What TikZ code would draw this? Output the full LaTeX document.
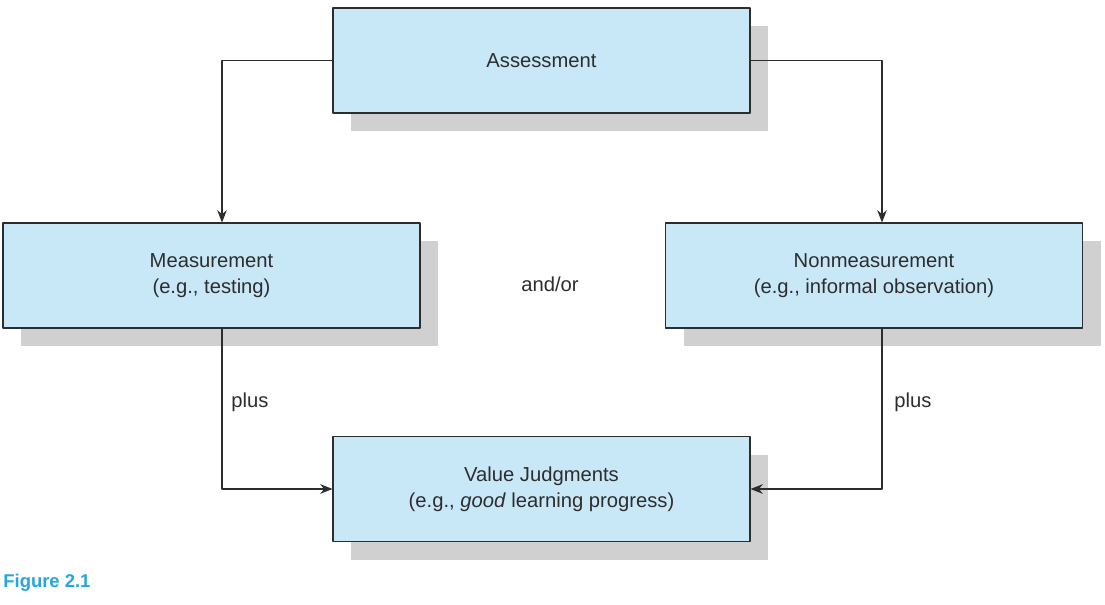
\documentclass[tikz,border=0pt]{standalone}
\usepackage{fontspec}
\setmainfont{Liberation Sans}
\usepackage{tikz}
\usetikzlibrary{arrows.meta,shadows}
\definecolor{boxblue}{RGB}{200,232,248}
\definecolor{shadowgray}{RGB}{208,208,208}
\definecolor{inkgray}{RGB}{45,45,45}
\definecolor{figblue}{RGB}{38,165,222}

\begin{document}
\begin{tikzpicture}[line cap=round,line join=round,>={Stealth[length=7pt,width=5.5pt]},x=1.0cm,y=1.0cm,
  box/.style={draw=inkgray,line width=0.6pt,fill=boxblue,minimum width=8.34cm,minimum height=2.1cm,
    align=center,text=inkgray,font=\fontsize{11.5}{14.8}\selectfont,
    general shadow={fill=shadowgray,draw=none,shadow xshift=0.36cm,shadow yshift=-0.36cm}},
  lbl/.style={text=inkgray,font=\fontsize{11.5}{14.8}\selectfont},
  link/.style={->,draw=inkgray,line width=0.6pt}]
\useasboundingbox (0.,0.) rectangle (22.1,12.08);
%\draw[red] (0.,0.) rectangle (22.1,12.08);
\node[box] (assess) at (10.83,10.87) {Assessment};
\node[box] (meas) at (4.23,6.57) {Measurement\\(e.g., testing)};
\node[box] (nonmeas) at (17.48,6.57) {Nonmeasurement\\(e.g., informal observation)};
\node[box] (value) at (10.83,2.30) {Value Judgments\\(e.g., \textit{good} learning progress)};
\node[lbl] (andor) at (11.0,6.40) {and/or};
\node[lbl] (plusl) at (5.0,4.04) {plus};
\node[lbl] (plusr) at (18.26,4.04) {plus};
\node[anchor=west,text=figblue,font=\fontsize{10.5}{12}\selectfont\bfseries,inner sep=0pt] (figlbl) at (0.06,0.42) {Figure 2.1};
\draw[link] (assess.west) -| ([xshift=0.21cm]meas.north);
\draw[link] (assess.east) -| ([xshift=0.16cm]nonmeas.north);
\draw[link] ([xshift=0.21cm]meas.south) |- (value.west);
\draw[link] ([xshift=0.16cm]nonmeas.south) |- (value.east);
\end{tikzpicture}
\end{document}
